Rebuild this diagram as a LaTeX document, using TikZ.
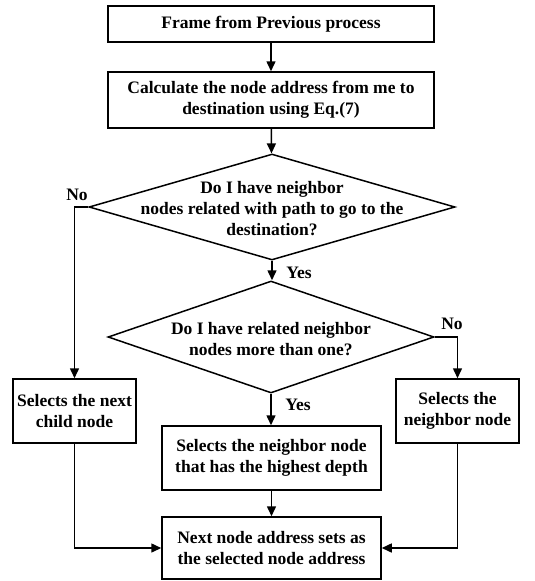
\documentclass[tikz,border=0pt]{standalone}
\usepackage{fontspec}
\setmainfont{Liberation Serif}
\usetikzlibrary{shapes.geometric,arrows.meta}
\tikzset{
  base/.style={font=\fontsize{17.5}{21}\selectfont\bfseries, align=center},
  procbox/.style={base, draw, line width=1.5pt, rectangle, inner sep=0pt},
  decision/.style={draw, line width=1.5pt, diamond, inner sep=0pt},
  txt/.style={base, inner sep=0pt},
  conn/.style={line width=1.5pt, -{Triangle[length=10pt,width=9pt]}},
  lbl/.style={base, inner sep=0pt}
}
\begin{document}
\begin{tikzpicture}[x=1pt,y=-1pt]
\useasboundingbox (0,0) rectangle (535,581);
\node[procbox, minimum width=326, minimum height=36] (b1) at (271,24) {Frame from Previous process};
\node[procbox, minimum width=326, minimum height=56] (b2) at (271,100) {Calculate the node address from me to\\destination using Eq.(7)};
\node[decision, minimum width=366, minimum height=106] (d1) at (272,207) {};
\node[txt] (d1t) at (272,209) {Do I have neighbor\\nodes related with path to go to the\\destination?};
\node[decision, minimum width=326, minimum height=112] (d2) at (271,337) {};
\node[txt] (d2t) at (271,339) {Do I have related neighbor\\nodes more than one?};
\node[procbox, minimum width=123, minimum height=64] (lbox) at (74.5,411) {Selects the next\\child node};
\node[procbox, minimum width=123, minimum height=64] (rbox) at (457.5,411) {Selects the\\neighbor node};
\node[procbox, minimum width=219, minimum height=64] (mbox) at (271.5,458) {Selects the neighbor node\\that has the highest depth};
\node[procbox, minimum width=219, minimum height=62] (bbox) at (271.5,548) {Next node address sets as\\the selected node address};
\node[lbl] (no1) at (77,195) {No};
\node[lbl] (yes1) at (299,273) {Yes};
\node[lbl] (no2) at (452,324) {No};
\node[lbl] (yes2) at (298,405) {Yes};
\draw[conn] (b1) -- (b2);
\draw[conn] (b2) -- (d1);
\draw[conn] (d1.south) -- (d1.south |- d2.north);
\draw[conn] (d1.west) -| (lbox.north);
\draw[conn] (d2.east) -| (rbox.north);
\draw[conn] (d2.south) -- (d2.south |- mbox.north);
\draw[conn] (mbox) -- (bbox);
\draw[conn] (lbox.south) |- (bbox.west);
\draw[conn] (rbox.south) |- (bbox.east);
\end{tikzpicture}
\end{document}
